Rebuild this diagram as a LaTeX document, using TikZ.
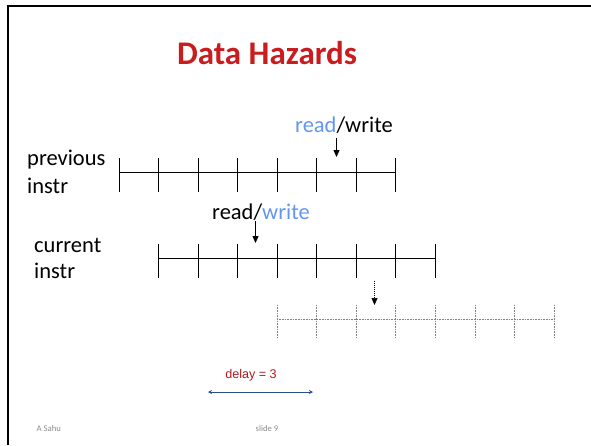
\documentclass[tikz,border=0pt]{standalone}
\usepackage{fontspec}
\setmainfont{Carlito}
\newfontfamily\arialfont{Liberation Sans}
\usetikzlibrary{arrows.meta,calc}
\definecolor{titlered}{RGB}{200,28,30}
\definecolor{hiblue}{RGB}{100,150,240}
\definecolor{delayred}{RGB}{178,24,30}
\definecolor{spanblue}{RGB}{40,80,140}
\definecolor{footgray}{RGB}{140,140,140}
\tikzset{
  lbl/.style={inner sep=0pt, font=\fontsize{22.5}{26}\selectfont},
  tline/.style={line width=0.9pt},
  ghost/.style={line width=0.7pt, gray, dash pattern=on 0.8pt off 0.8pt},
  marker/.style={line width=0.8pt, -{Triangle[width=6pt,length=7pt]}},
  foot/.style={inner sep=0pt, text=footgray, font=\fontsize{8.7}{10}\selectfont},
}
\begin{document}
\begin{tikzpicture}[x=1pt,y=-1pt]
  \useasboundingbox (0,0) rectangle (591,445);
  % slide frame
  \draw[line width=2.2pt] (8,445) -- (8,6) -- (591,6);

  % title
  \node[inner sep=0pt, text=titlered, font=\fontsize{33}{38}\bfseries\selectfont] (title) at (267,53) {Data Hazards};

  % previous instruction
  \node[lbl, anchor=west] (prev1) at (27,160) {previous};
  \node[lbl, anchor=west] (prev2) at (27,186) {instr};
  \coordinate (pa) at (119,172);
  \coordinate (pb) at (395.5,172);
  \draw[tline] (pa) -- (pb);
  \foreach \i in {0,...,7} {
    \draw[tline] ($(pa)+(39.5*\i,-14)$) -- ++(0,34);
  }
  \node[lbl, anchor=base] (rw1) at (344,132) {\textcolor{hiblue}{read}/write};
  \coordinate (rw1tip) at (336.5,157);
  \draw[marker] (336.5,138) -- (rw1tip);

  % current instruction
  \node[lbl, anchor=west] (cur1) at (34,245) {current};
  \node[lbl, anchor=west] (cur2) at (34,271) {instr};
  \coordinate (ca) at (158.5,258.5);
  \coordinate (cb) at (435,258.5);
  \draw[tline] (ca) -- (cb);
  \foreach \i in {0,...,7} {
    \draw[tline] ($(ca)+(39.5*\i,-15)$) -- ++(0,34);
  }
  \node[lbl, anchor=base] (rw2) at (261,219) {read/\textcolor{hiblue}{write}};
  \coordinate (rw2tip) at (255.5,243);
  \draw[marker] (255.5,221) -- (rw2tip);

  % delayed instruction
  \coordinate (da) at (277,319.5);
  \coordinate (db) at (554,319.5);
  \draw[ghost] (da) -- (db);
  \foreach \i in {0,...,7} {
    \draw[ghost] ($(da)+(39.57*\i,-14.5)$) -- ++(0,33);
  }
  \coordinate (dtip) at (374.5,305);
  \draw[marker, line width=0.6pt, dash pattern=on 1pt off 1pt] (374.5,281) -- (dtip);

  % delay span
  \node[inner sep=0pt, text=delayred, font=\arialfont\fontsize{12.6}{15}\selectfont] (delay) at (251,375) {delay = 3};
  \coordinate (sl) at (208,392);
  \coordinate (sr) at (313,392);
  \draw[spanblue, line width=1pt, {Stealth[length=4pt,width=4pt]}-{Stealth[length=4pt,width=4pt]}] (sl) -- (sr);

  % footer
  \node[foot, anchor=west] (author) at (36.5,428.5) {A Sahu};
  \node[foot, anchor=west] (slideno) at (255.5,428.5) {slide 9};
\end{tikzpicture}
\end{document}
